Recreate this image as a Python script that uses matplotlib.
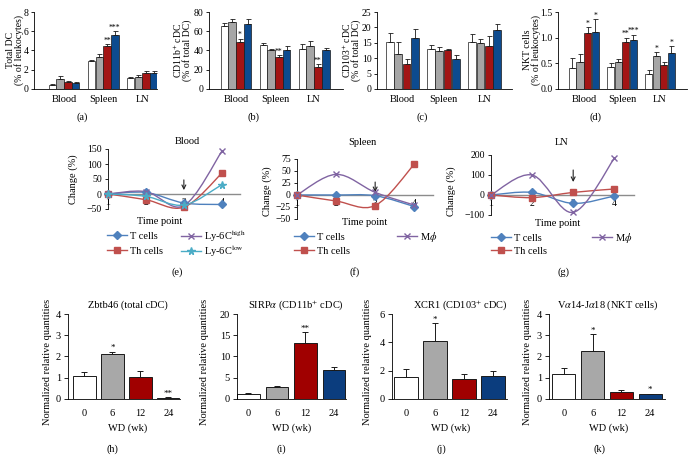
import numpy as np
import matplotlib
matplotlib.use('Agg')
import matplotlib.pyplot as plt
from matplotlib.path import Path
from matplotlib.patches import PathPatch
from matplotlib.lines import Line2D

plt.rcParams['font.family'] = ['Liberation Serif', 'DejaVu Sans']
plt.rcParams['mathtext.fontset'] = 'stix'
plt.rcParams['axes.linewidth'] = 0.6

W, H = 688, 461
fig = plt.figure(figsize=(W / 100, H / 100), dpi=100)

# ---------------- data ----------------
groups = ['Blood', 'Spleen', 'LN']

# (a) Total DC (% of leukocytes): rows = groups, cols = 4 diet groups
tdc_mean = [[0.42, 1.0, 0.75, 0.58], [2.9, 3.35, 4.45, 5.6], [1.15, 1.25, 1.7, 1.68]]
tdc_err = [[0.05, 0.32, 0.12, 0.1], [0.15, 0.3, 0.25, 0.45], [0.06, 0.18, 0.2, 0.2]]
tdc_sig = [['', '', '', ''], ['', '', '**', '***'], ['', '', '', '']]

# (b) CD11b+ cDC (% of total DC)
cd11b_mean = [[65, 69.5, 49, 68], [45.5, 41, 32.8, 41], [42, 44.5, 23, 40.3]]
cd11b_err = [[3.5, 3.5, 3.4, 4.4], [2.5, 1.0, 2.2, 3.5], [4.5, 5.5, 3.0, 2.5]]
cd11b_sig = [['', '', '*', ''], ['', '', '**', ''], ['', '', '**', '']]

# (c) CD103+ cDC (% of total DC)
cd103_mean = [[15.3, 11.5, 8.0, 16.6], [13.1, 12.4, 12.6, 9.6], [15.3, 14.8, 14.0, 19.1]]
cd103_err = [[2.9, 3.6, 1.6, 3.0], [1.3, 1.3, 0.5, 1.3], [2.4, 1.3, 3.2, 1.9]]
cd103_sig = [['', '', '', ''], ['', '', '', ''], ['', '', '', '']]

# (d) NKT cells (% of leukocytes)
nkt_mean = [[0.4, 0.53, 1.09, 1.11], [0.42, 0.52, 0.92, 0.96], [0.3, 0.65, 0.47, 0.7]]
nkt_err = [[0.21, 0.15, 0.12, 0.25], [0.08, 0.06, 0.08, 0.1], [0.07, 0.07, 0.05, 0.14]]
nkt_sig = [['', '', '*', '*'], ['', '', '**', '***'], ['', '*', '', '*']]

# (e)-(g) change (%) over time points
time_points = [1, 2, 3, 4]
blood_t = [0, 5, -30, -35]
blood_th = [0, -19, -44, 69]
blood_ly6c_high = [0, 8, -39, 142]
blood_ly6c_low = [0, -8, -37, 31]
spleen_t = [0, 0, -1.5, -24]
spleen_th = [0, -12.5, -22, 64]
spleen_mphi = [0, 43, 5.5, -21]
ln_t = [0, 13, -42, -5]
ln_th = [0, -13, 13, 30]
ln_mphi = [0, 100, -87, 183]

# (h)-(k) qPCR
wd_weeks = ['0', '6', '12', '24']
zbtb46_mean = [1.08, 2.12, 1.05, 0.07]
zbtb46_err = [0.17, 0.11, 0.28, 0.03]
zbtb46_sig = ['', '*', '', '**']
sirpa_mean = [1.2, 2.75, 13.1, 6.8]
sirpa_err = [0.15, 0.35, 2.7, 0.8]
sirpa_sig = ['', '', '**', '']
xcr1_mean = [1.58, 4.12, 1.39, 1.65]
xcr1_err = [0.54, 1.22, 0.37, 0.33]
xcr1_sig = ['', '*', '', '']
va14_mean = [1.18, 2.27, 0.35, 0.22]
va14_err = [0.26, 0.79, 0.09, 0.03]
va14_sig = ['', '*', '', '*']

# ---------------- helpers ----------------
def add_ax(l, t, r, b):
    return fig.add_axes([l / W, 1 - b / H, (r - l) / W, (b - t) / H])


def ftext(x, y, s, **kw):
    kw.setdefault('ha', 'center')
    kw.setdefault('va', 'center')
    return fig.text(x / W, 1 - y / H, s, **kw)


top_colors = ['white', '#a6a6a6', '#a31515', '#0d4b8f']
bot_colors = ['white', '#a8a8a8', '#a00000', '#0b3d7e']


def top_panel(box, mean, err, sig, xlim, ylim, yticks, yticklabels, ylabel, ylabel_x, letter, letter_x):
    ax = add_ax(*box)
    x = np.arange(len(groups))
    w, step = 0.19, 0.2
    for k in range(4):
        xs = x + (k - 1.5) * step
        m = np.array([mean[g][k] for g in range(3)])
        e = np.array([err[g][k] for g in range(3)])
        ax.bar(xs, m, w, color=top_colors[k], edgecolor='#1a1a1a', linewidth=0.5, zorder=2)
        ax.errorbar(xs, m, yerr=[np.zeros(3), e], fmt='none', ecolor='#1a1a1a',
                    elinewidth=0.6, capsize=1.8, capthick=0.6, zorder=3)
        for g in range(3):
            if sig[g][k]:
                ax.annotate(sig[g][k], (xs[g], m[g] + e[g]), xytext=(0, -0.5),
                            textcoords='offset points', ha='center', va='bottom', fontsize=5.5)
    ax.set_xlim(*xlim)
    ax.set_ylim(*ylim)
    ax.set_yticks(yticks)
    ax.set_yticklabels(yticklabels)
    ax.set_xticks(x)
    ax.set_xticklabels(groups)
    ax.spines['top'].set_visible(False)
    ax.spines['right'].set_visible(False)
    ax.tick_params(axis='y', direction='out', length=2.5, width=0.6, labelsize=7, pad=1.5)
    ax.tick_params(axis='x', length=0, labelsize=7.5, pad=4)
    ftext(ylabel_x, 50, ylabel, rotation=90, fontsize=7, linespacing=0.85)
    ftext(letter_x, 117, letter, fontsize=7.5)
    return ax


top_panel((34, 12, 157, 89), tdc_mean, tdc_err, tdc_sig, (-0.77, 2.38), (0, 8),
          [0, 2, 4, 6, 8], ['0', '2', '4', '6', '8'],
          'Total DC\n(% of leukocytes)', 15, '(a)', 82)
top_panel((209, 12, 343, 89), cd11b_mean, cd11b_err, cd11b_sig, (-0.69, 2.74), (0, 80),
          [0, 20, 40, 60, 80], ['0', '20', '40', '60', '80'],
          'CD11b$^{+}$ cDC\n(% of total DC)', 182, '(b)', 253)
top_panel((377, 12, 512, 89), cd103_mean, cd103_err, cd103_sig, (-0.62, 2.67), (0, 25),
          [0, 5, 10, 15, 20, 25], ['0', '5', '10', '15', '20', '25'],
          'CD103$^{+}$ cDC\n(% of total DC)', 351, '(c)', 422)
top_panel((558, 12, 687, 89), nkt_mean, nkt_err, nkt_sig, (-0.68, 2.71), (0, 1.5),
          [0, 0.5, 1.0, 1.5], ['0.0', '0.5', '1.0', '1.5'],
          'NKT cells\n(% of leukocytes)', 532, '(d)', 595)


# ---------------- line panels ----------------
def smooth_path(xs, ys):
    pts = np.column_stack([np.asarray(xs, float), np.asarray(ys, float)])
    n = len(pts)
    verts = [pts[0]]
    codes = [Path.MOVETO]
    for i in range(n - 1):
        p0 = pts[i - 1] if i > 0 else pts[i]
        p1 = pts[i]
        p2 = pts[i + 1]
        p3 = pts[i + 2] if i + 2 < n else pts[i + 1]
        c1 = p1 + (p2 - p0) / 6.0
        c2 = p2 - (p3 - p1) / 6.0
        verts += [c1, c2, p2]
        codes += [Path.CURVE4] * 3
    return Path(verts, codes)


series_style = {
    'T cells': dict(color='#4f81bd', marker='D', ms=3.6),
    'Th cells': dict(color='#c0504d', marker='s', ms=4.2),
    'Ly-6C$^{\\mathrm{high}}$': dict(color='#8064a2', marker='x', ms=4.5),
    'Ly-6C$^{\\mathrm{low}}$': dict(color='#4bacc6', marker='*', ms=5.5),
    'M$\\phi$': dict(color='#8064a2', marker='x', ms=4.5),
}


def line_panel(box, series, ylim, yticks, title, title_xy, ylabel_xy, xlabel_xy,
               arrow, legend_pos, letter, letter_x):
    ax = add_ax(*box)
    for (name, ys), (lx, ly) in zip(series, legend_pos):
        st = series_style[name]
        patch = PathPatch(smooth_path(time_points, ys), fill=False, edgecolor=st['color'],
                          lw=1.0, zorder=3)
        ax.add_patch(patch)
        ax.plot(time_points, ys, linestyle='none', marker=st['marker'], ms=st['ms'],
                color=st['color'], mec=st['color'], mew=1.0, zorder=4, clip_on=False)
        h = Line2D([], [], color=st['color'], lw=1.0, marker=st['marker'],
                   ms=st['ms'], mew=1.0, label=name)
        fig.legend(handles=[h], loc='center left',
                   bbox_to_anchor=(lx / W, 1 - ly / H),
                   frameon=False, fontsize=7.5, handlelength=1.9, handletextpad=0.35,
                   borderpad=0, borderaxespad=0)
    ax.set_xlim(1, 4.48)
    ax.set_ylim(*ylim)
    ax.set_yticks(yticks)
    ax.set_xticks(time_points)
    ax.spines['top'].set_visible(False)
    ax.spines['right'].set_visible(False)
    ax.spines['bottom'].set_position(('data', 0))
    ax.spines['bottom'].set_color('#8c8c8c')
    ax.spines['bottom'].set_linewidth(1.0)
    ax.spines['bottom'].set_zorder(1)
    ax.tick_params(axis='y', direction='out', length=2.5, width=0.6, labelsize=7, pad=2)
    ax.tick_params(axis='x', length=0, labelsize=7, pad=3)
    ax.patch.set_alpha(0)
    ax.annotate('', xy=(3, arrow[1]), xytext=(3, arrow[0]),
                arrowprops=dict(arrowstyle='->', lw=0.8, color='#222222',
                                shrinkA=0, shrinkB=0, mutation_scale=7))
    ftext(*title_xy, title, fontsize=7.5)
    ftext(*ylabel_xy, 'Change (%)', rotation=90, fontsize=7.5)
    ftext(*xlabel_xy, 'Time point', fontsize=7.5)
    ftext(letter_x, 272, letter, fontsize=7.5)
    return ax


line_panel((108, 149, 240, 209), [('T cells', blood_t), ('Th cells', blood_th),
                                   ('Ly-6C$^{\\mathrm{high}}$', blood_ly6c_high),
                                   ('Ly-6C$^{\\mathrm{low}}$', blood_ly6c_low)],
           (-50, 150), [-50, 0, 50, 100, 150], 'Blood', (187, 141), (73, 179), (160, 221),
           (47, 13), [(107, 236), (107, 251), (181, 236), (181, 251)], '(e)', 177)
line_panel((297, 159, 433, 219), [('T cells', spleen_t), ('Th cells', spleen_th),
                                   ('M$\\phi$', spleen_mphi)],
           (-50, 75), [-50, -25, 0, 25, 50, 75], 'Spleen', (362, 142), (267, 191), (365, 222),
           (27, 6), [(294, 237), (294, 251), (397, 237)], '(f)', 355)
line_panel((491, 155, 634, 215), [('T cells', ln_t), ('Th cells', ln_th),
                                   ('M$\\phi$', ln_mphi)],
           (-100, 200), [-100, 0, 100, 200], 'LN', (562, 142), (451, 191), (558, 223),
           (125, 65), [(491, 238), (491, 251), (592, 238)], '(g)', 563)


# ---------------- bottom qPCR panels ----------------
def bottom_panel(box, xlim, mean, err, sig, ylim, yticks, title, title_x, ylabel_x,
                 xlabel_x, letter, letter_x):
    ax = add_ax(*box)
    x = np.arange(len(wd_weeks))
    ax.bar(x, mean, 0.8, color=bot_colors, edgecolor='#1a1a1a', linewidth=0.7, zorder=2)
    ax.errorbar(x, mean, yerr=[np.zeros(len(x)), err], fmt='none', ecolor='#1a1a1a',
                elinewidth=0.7, capsize=2.5, capthick=0.7, zorder=3)
    for i in range(len(x)):
        if sig[i]:
            ax.annotate(sig[i], (x[i], mean[i] + err[i]), xytext=(0, -0.5),
                        textcoords='offset points', ha='center', va='bottom', fontsize=6.5)
    ax.set_xlim(*xlim)
    ax.set_ylim(*ylim)
    ax.set_yticks(yticks)
    ax.set_xticks(x)
    ax.set_xticklabels(wd_weeks)
    ax.spines['top'].set_visible(False)
    ax.spines['right'].set_visible(False)
    ax.tick_params(axis='y', direction='out', length=3, width=0.6, labelsize=7.5, pad=2)
    ax.tick_params(axis='x', length=0, labelsize=7.5, pad=7)
    ftext(title_x, 305, title, fontsize=7.5)
    ftext(ylabel_x, 362, 'Normalized relative quantities', rotation=90, fontsize=7.5)
    ftext(xlabel_x, 428, 'WD (wk)', fontsize=7.5)
    ftext(letter_x, 449, letter, fontsize=7.5)
    return ax


bottom_panel((68, 314, 180, 399), (-0.59, 3.42), zbtb46_mean, zbtb46_err, zbtb46_sig,
             (0, 4), [0, 1, 2, 3, 4], 'Zbtb46 (total cDC)', 128, 47, 128, '(h)', 112)
bottom_panel((237, 314, 346, 399), (-0.4, 3.42), sirpa_mean, sirpa_err, sirpa_sig,
             (0, 20), [0, 5, 10, 15, 20], 'SIRP$\\alpha$ (CD11b$^{+}$ cDC)', 296, 205, 292,
             '(i)', 281)
bottom_panel((392, 314, 507, 399), (-0.48, 3.48), xcr1_mean, xcr1_err, xcr1_sig,
             (0, 6), [0, 2, 4, 6], 'XCR1 (CD103$^{+}$ cDC)', 460, 368, 451, '(j)', 441)
bottom_panel((549, 314, 665, 399), (-0.52, 3.52), va14_mean, va14_err, va14_sig,
             (0, 4), [0, 1, 2, 3, 4], 'V$\\alpha$14-J$\\alpha$18 (NKT cells)', 608, 528, 609,
             '(k)', 599)

fig.savefig('out.png', dpi=100)
